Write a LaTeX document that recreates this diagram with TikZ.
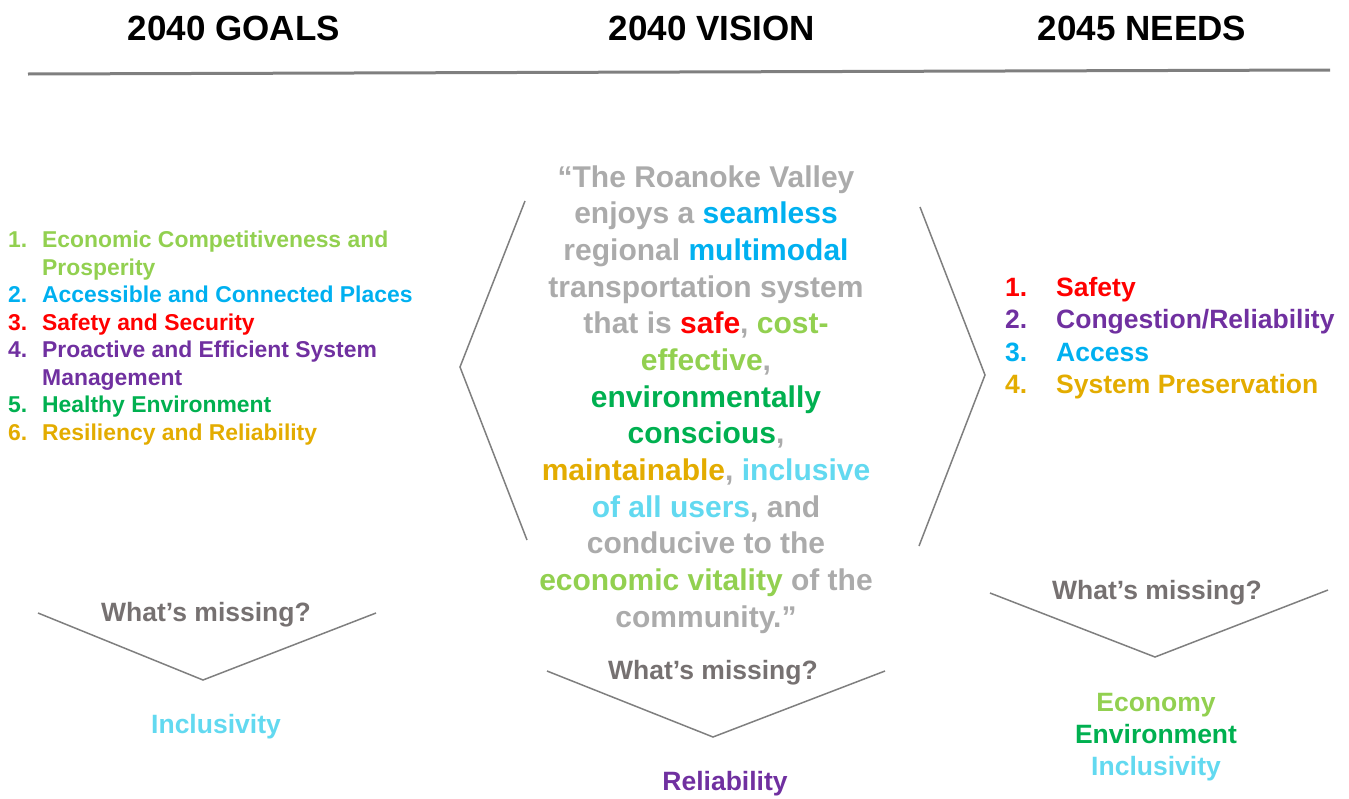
\documentclass[tikz,border=0pt]{standalone}
\usepackage{fontspec}
\setmainfont{Liberation Sans}
\definecolor{lgreen}{HTML}{92D050}
\definecolor{cblue}{HTML}{00B0F0}
\definecolor{cred}{HTML}{FF0000}
\definecolor{cpurple}{HTML}{7030A0}
\definecolor{cgreen}{HTML}{00B050}
\definecolor{cgold}{HTML}{E3AC00}
\definecolor{ltblue}{HTML}{62D9F0}
\definecolor{vgray}{HTML}{ABABAB}
\definecolor{mgray}{HTML}{767171}
\definecolor{lgray}{HTML}{7F7F7F}
\tikzset{
  hdr/.style={anchor=base, font=\fontsize{35}{40}\selectfont\bfseries, text=black, inner sep=0pt},
  goal/.style={anchor=base west, font=\fontsize{22.9}{27}\selectfont\bfseries, inner sep=0pt},
  need/.style={anchor=base west, font=\fontsize{26.5}{31}\selectfont\bfseries, inner sep=0pt},
  vis/.style={anchor=base, font=\fontsize{30}{36}\selectfont\bfseries, text=vgray, inner sep=0pt},
  miss/.style={anchor=base, font=\fontsize{26.5}{31}\selectfont\bfseries, text=mgray, inner sep=0pt},
  ans/.style={anchor=base, font=\fontsize{26.5}{31}\selectfont\bfseries, inner sep=0pt},
  chev/.style={draw=lgray, line width=1.5pt},
}
\begin{document}
\begin{tikzpicture}[x=1pt,y=-1pt]
\useasboundingbox (0,0) rectangle (1349,798);
% headers
\node[hdr] (h1) at (234,40) {2040 GOALS};
\node[hdr] (h2) at (712,40) {2040 VISION};
\node[hdr] (h3) at (1142,40) {2045 NEEDS};
\coordinate (lineL) at (28,74);
\coordinate (lineR) at (1330,70);
\draw[draw=lgray, line width=3pt] (lineL) -- (lineR);

% goals
\node[goal, text=lgreen] (g1n) at (8,247) {1.};
\node[goal, text=lgreen] (g1) at (42,247) {Economic Competitiveness and};
\node[goal, text=lgreen] (g1b) at (42,275) {Prosperity};
\node[goal, text=cblue] (g2n) at (8,302) {2.};
\node[goal, text=cblue] (g2) at (42,302) {Accessible and Connected Places};
\node[goal, text=cred] (g3n) at (8,330) {3.};
\node[goal, text=cred] (g3) at (42,330) {Safety and Security};
\node[goal, text=cpurple] (g4n) at (8,357) {4.};
\node[goal, text=cpurple] (g4) at (42,357) {Proactive and Efficient System};
\node[goal, text=cpurple] (g4b) at (42,385) {Management};
\node[goal, text=cgreen] (g5n) at (8,412) {5.};
\node[goal, text=cgreen] (g5) at (42,412) {Healthy Environment};
\node[goal, text=cgold] (g6n) at (8,440) {6.};
\node[goal, text=cgold] (g6) at (42,440) {Resiliency and Reliability};

% vision text
\node[vis] (v1) at (706,187) {“The Roanoke Valley};
\node[vis] (v2) at (706,223) {enjoys a \textcolor{cblue}{seamless}};
\node[vis] (v3) at (706,260) {regional \textcolor{cblue}{multimodal}};
\node[vis] (v4) at (706,297) {transportation system};
\node[vis] (v5) at (706,333) {that is \textcolor{cred}{safe}, \textcolor{lgreen}{cost-}};
\node[vis] (v6) at (706,370) {\textcolor{lgreen}{effective},};
\node[vis] (v7) at (706,407) {\textcolor{cgreen}{environmentally}};
\node[vis] (v8) at (706,443) {\textcolor{cgreen}{conscious},};
\node[vis] (v9) at (706,480) {\textcolor{cgold}{maintainable}, \textcolor{ltblue}{inclusive}};
\node[vis] (v10) at (706,517) {\textcolor{ltblue}{of all users}, and};
\node[vis] (v11) at (706,553) {conducive to the};
\node[vis] (v12) at (706,590) {\textcolor{lgreen}{economic vitality} of the};
\node[vis] (v13) at (706,627) {community.”};

% brackets around vision
\coordinate (la) at (525,201);
\coordinate (lb) at (460,367);
\coordinate (lc) at (527,540);
\draw[chev] (la) -- (lb) -- (lc);
\coordinate (ra) at (920,207);
\coordinate (rb) at (985,375);
\coordinate (rc) at (919,546);
\draw[chev] (ra) -- (rb) -- (rc);

% needs
\node[need, text=cred] (n1n) at (1005,296) {1.};
\node[need, text=cred] (n1) at (1056,296) {Safety};
\node[need, text=cpurple] (n2n) at (1005,328) {2.};
\node[need, text=cpurple] (n2) at (1056,328) {Congestion/Reliability};
\node[need, text=cblue] (n3n) at (1005,361) {3.};
\node[need, text=cblue] (n3) at (1056,361) {Access};
\node[need, text=cgold] (n4n) at (1005,393) {4.};
\node[need, text=cgold] (n4) at (1056,393) {System Preservation};

% what's missing - left
\node[miss] (m1) at (206,621) {What’s missing?};
\coordinate (c1a) at (38,613);
\coordinate (c1b) at (203,680);
\coordinate (c1c) at (376,613);
\draw[chev] (c1a) -- (c1b) -- (c1c);
\node[ans, text=ltblue] (a1) at (216,733) {Inclusivity};

% what's missing - center
\node[miss] (m2) at (713,679) {What’s missing?};
\coordinate (c2a) at (547,671);
\coordinate (c2b) at (713,737);
\coordinate (c2c) at (885,671);
\draw[chev] (c2a) -- (c2b) -- (c2c);
\node[ans, text=cpurple] (a2) at (725,790) {Reliability};

% what's missing - right
\node[miss] (m3) at (1157,599) {What’s missing?};
\coordinate (c3a) at (990,593);
\coordinate (c3b) at (1155,657);
\coordinate (c3c) at (1328,590);
\draw[chev] (c3a) -- (c3b) -- (c3c);
\node[ans, text=lgreen] (a3) at (1156,711) {Economy};
\node[ans, text=cgreen] (a4) at (1156,743) {Environment};
\node[ans, text=ltblue] (a5) at (1156,775) {Inclusivity};
\end{tikzpicture}
\end{document}
